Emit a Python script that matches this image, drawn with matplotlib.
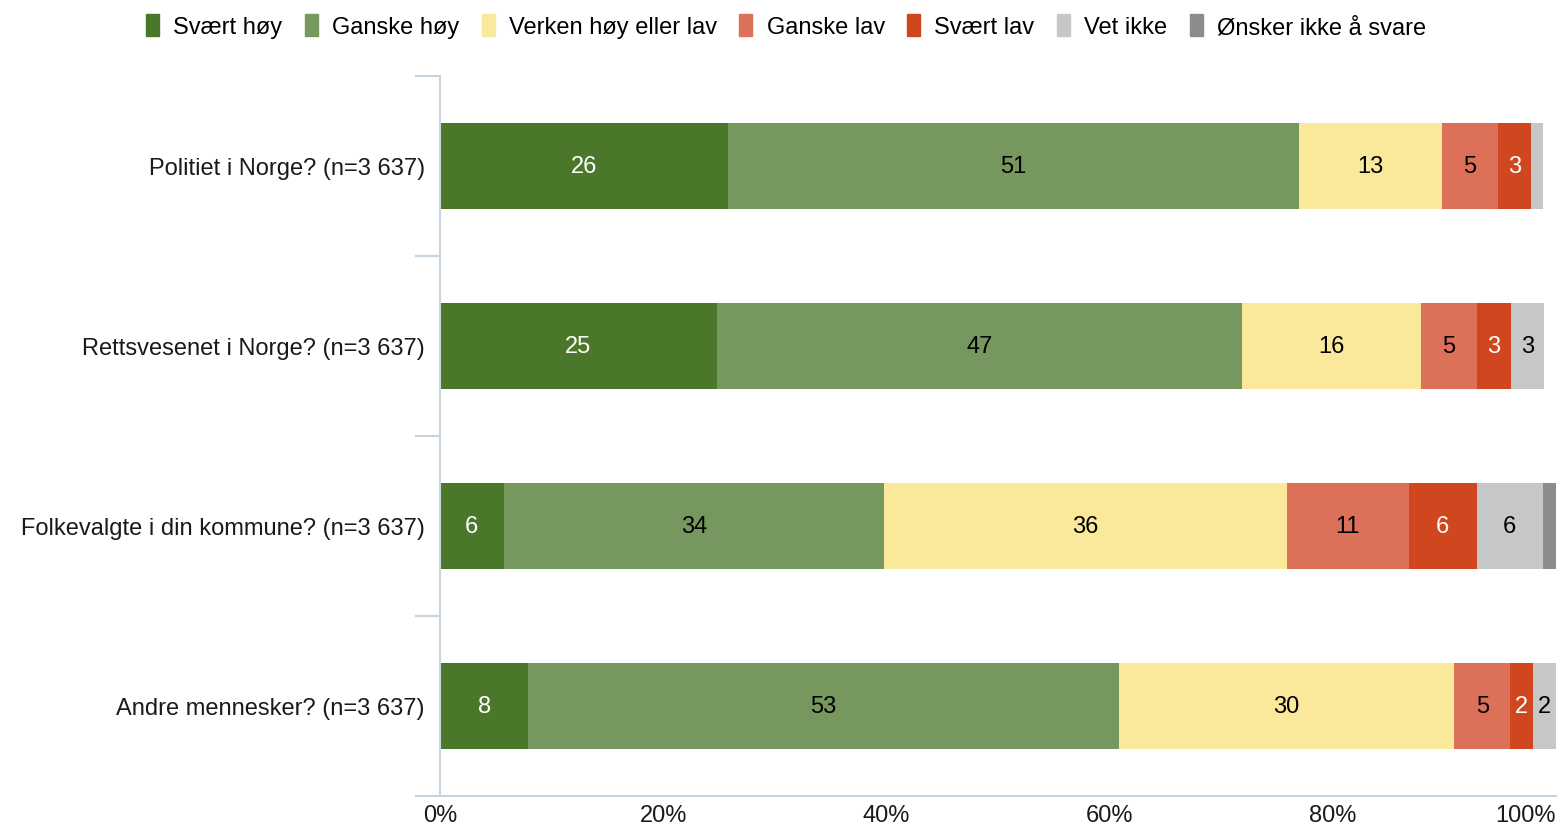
import matplotlib.pyplot as plt
from matplotlib.patches import Patch

plt.rcParams['font.family'] = ['Liberation Sans', 'DejaVu Sans']

# kategorier og svaralternativer
questions = ['Politiet i Norge? (n=3 637)', 'Rettsvesenet i Norge? (n=3 637)',
             'Folkevalgte i din kommune? (n=3 637)', 'Andre mennesker? (n=3 637)']
answers = ['Svært høy', 'Ganske høy', 'Verken høy eller lav', 'Ganske lav',
           'Svært lav', 'Vet ikke', 'Ønsker ikke å svare']

# prosent per svar, en liste per spørsmål
politiet = [25.8, 51.2, 12.8, 5.0, 3.0, 1.0, 0.0]
rettsvesenet = [24.8, 47.1, 16.0, 5.0, 3.1, 2.9, 0.0]
folkevalgte = [5.7, 34.1, 36.1, 10.9, 6.1, 5.9, 1.3]
andre = [7.9, 52.9, 30.1, 5.0, 2.0, 2.2, 0.0]

colors = ['#4a772a', '#76985f', '#fae89b', '#dc7059', '#d0461e', '#c6c7c9', '#8c8c8c']
text_colors = ['white', 'black', 'black', 'black', 'white', 'black', 'black']

rows = [politiet, rettsvesenet, folkevalgte, andre]
fs = 17

fig = plt.figure(figsize=(15.62, 8.29), dpi=100)
ax = fig.add_axes([440 / 1562, 1 - 797 / 829, (1556 - 440) / 1562, 720 / 829])

for i, vals in enumerate(rows):
    left = 0
    for j, v in enumerate(vals):
        if v > 0:
            ax.barh(i, v, left=left, height=0.48, color=colors[j], linewidth=0)
            if v >= 1.5:
                ax.text(left + v / 2, i, str(round(v)), ha='center', va='center',
                        fontsize=fs, color=text_colors[j])
        left += v

ax.set_xlim(0, 100)
ax.set_ylim(3.5, -0.5)
ax.set_yticks(range(len(questions)))
ax.set_yticklabels(questions, fontsize=fs, color='#1a1a1a')
ax.tick_params(axis='y', length=0, pad=11)
ax.set_yticks([-0.5, 0.5, 1.5, 2.5, 3.5], minor=True)
ax.tick_params(axis='y', which='minor', length=18, color='#c8d3e0', width=1.5)

ax.set_xticks([0, 20, 40, 60, 80, 100])
ax.set_xticklabels(['0%', '20%', '40%', '60%', '80%', '100%'], fontsize=fs, color='#1a1a1a')
ax.tick_params(axis='x', length=0, pad=6)
ax.get_xticklabels()[-1].set_ha('right')

for s in ['top', 'right']:
    ax.spines[s].set_visible(False)
for s in ['left', 'bottom']:
    ax.spines[s].set_color('#c8d3e0')
    ax.spines[s].set_linewidth(1.5)

handles = [Patch(color=c, label=a) for c, a in zip(colors, answers)]
fig.legend(handles=handles, loc='center', bbox_to_anchor=(786 / 1562, 1 - 27 / 829),
           ncol=7, frameon=False, fontsize=fs, handlelength=0.55, handleheight=1.1,
           handletextpad=0.6, columnspacing=0.95)

fig.savefig('out.png', dpi=100)
